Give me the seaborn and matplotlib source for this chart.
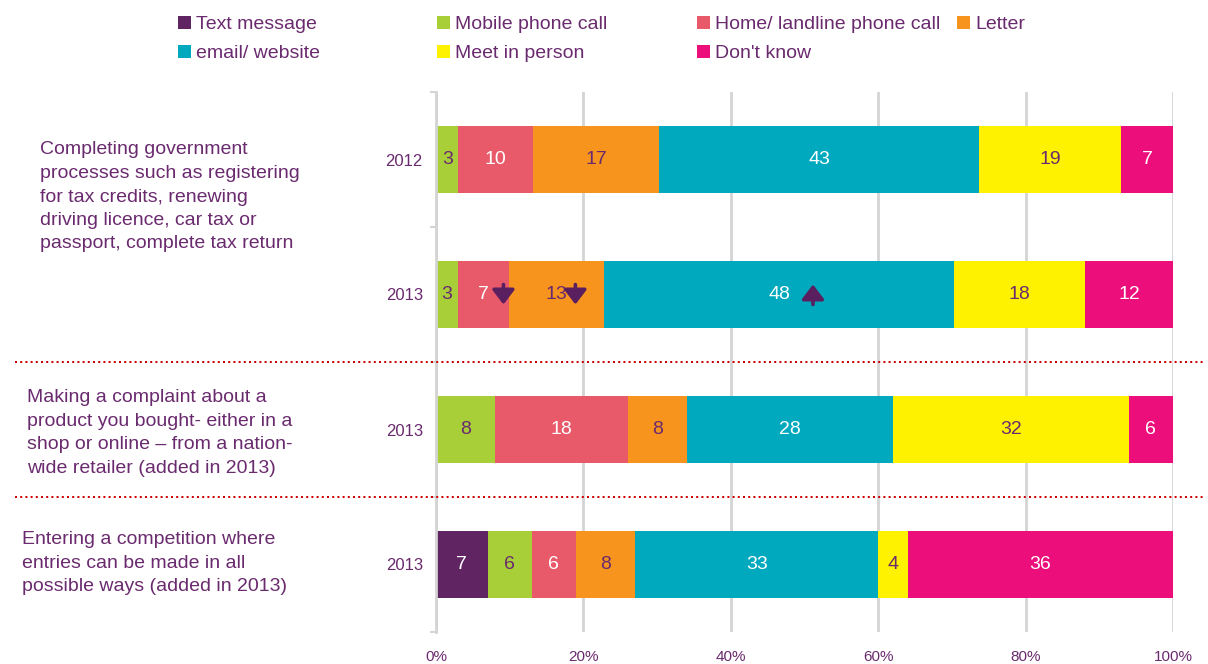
import numpy as np
import pandas as pd
import seaborn as sns
import matplotlib.pyplot as plt
from matplotlib.lines import Line2D
from matplotlib.patches import Patch
from matplotlib.transforms import offset_copy, blended_transform_factory

# ---------------- data ----------------
categories = ["Text message", "Mobile phone call", "Home/ landline phone call",
              "Letter", "email/ website", "Meet in person", "Don't know"]
row_ids = ["gov_2012", "gov_2013", "complaint_2013", "competition_2013"]
years = ["2012", "2013", "2013", "2013"]

text_message = [0, 0, 0, 7]
mobile_call = [3, 3, 8, 6]
home_call = [10, 7, 18, 6]
letter = [17, 13, 8, 8]
email_web = [43, 48, 28, 33]
meet_person = [19, 18, 32, 4]
dont_know = [7, 12, 6, 36]

group_labels = [
    "Completing government\nprocesses such as registering\nfor tax credits, renewing\ndriving licence, car tax or\npassport, complete tax return",
    "Making a complaint about a\nproduct you bought- either in a\nshop or online \u2013 from a nation-\nwide retailer (added in 2013)",
    "Entering a competition where\nentries can be made in all\npossible ways (added in 2013)",
]
xtick_values = [0, 20, 40, 60, 80, 100]
xtick_labels = ["0%", "20%", "40%", "60%", "80%", "100%"]

# significant change markers: (row, category, direction)
change_arrows = [("gov_2013", "Home/ landline phone call", "down"),
                 ("gov_2013", "Letter", "down"),
                 ("gov_2013", "email/ website", "up")]

# ---------------- style / layout ----------------
W, H = 1208, 664
purple = "#6a2a6e"
arrow_col = "#5a1f5e"
colors = ["#5f2461", "#a8cf38", "#e85a6a", "#f7941d", "#00a9be", "#fff200", "#ec0e7a"]
label_colors = ["white", purple, "white", purple, "white", purple, "white"]
arrow_offsets_px = [20, 19, 34]
group_label_pos = [(40, 197), (27, 433), (22, 563)]  # pixel x (left), y (center)
legend_columns = [[0, 4], [1, 5], [2, 6], [3]]
legend_x_px = [178, 437, 697, 957]
grid_col = "#d4d4d4"

sns.set_theme(style="white")
plt.rcParams["font.family"] = ["Liberation Sans", "DejaVu Sans"]

fig = plt.figure(figsize=(W / 100, H / 100), dpi=100)
ax = fig.add_axes([436 / W, 1 - 632 / H, (1173 - 436) / W, (632 - 92) / H])

values = np.array([text_message, mobile_call, home_call, letter,
                   email_web, meet_person, dont_know], dtype=float).T
pct = values / values.sum(axis=1, keepdims=True) * 100
cum = pct.cumsum(axis=1)

for j in reversed(range(len(categories))):
    df = pd.DataFrame({"row": row_ids, "cum": cum[:, j]})
    sns.barplot(data=df, x="cum", y="row", order=row_ids, orient="h",
                color=colors[j], saturation=1, width=0.49, linewidth=0,
                errorbar=None, ax=ax)

# segment value labels
for i in range(len(row_ids)):
    for j in range(len(categories)):
        if values[i, j] > 0:
            cx = cum[i, j] - pct[i, j] / 2
            ax.text(cx, i, f"{int(values[i, j])}", ha="center", va="center",
                    fontsize=14, color=label_colors[j])

# arrows
for (row, cat, direction), off in zip(change_arrows, arrow_offsets_px):
    i = row_ids.index(row)
    j = categories.index(cat)
    cx = cum[i, j] - pct[i, j] / 2
    dx = off * 0.72
    hy = -7.2 if direction == "down" else 7.2
    ax.annotate("", xy=(cx, i),
                xycoords=offset_copy(ax.transData, fig=fig, x=dx, y=hy, units="points"),
                xytext=(cx, i),
                textcoords=offset_copy(ax.transData, fig=fig, x=dx, y=-hy, units="points"),
                arrowprops=dict(arrowstyle="-|>,head_length=0.55,head_width=0.42",
                                color=arrow_col, lw=2.6, mutation_scale=16,
                                shrinkA=0, shrinkB=0))

# axes styling
ax.set_xlim(0, 100)
ax.set_ylim(3.5, -0.5)
ax.set_xlabel("")
ax.set_ylabel("")
ax.set_xticks(xtick_values)
ax.set_xticklabels(xtick_labels)
ax.tick_params(axis="x", length=0, pad=13, labelsize=11, labelcolor=purple)
ax.set_yticks(range(len(row_ids)))
ax.set_yticklabels(years)
ax.tick_params(axis="y", which="major", length=0, pad=9.5, labelsize=12, labelcolor=purple)
ax.set_yticks([-0.5, 0.5, 1.5, 2.5, 3.5], minor=True)
ax.tick_params(axis="y", which="minor", length=4, width=1.5, color=grid_col, left=True)
ax.grid(False)
ax.grid(axis="x", color=grid_col, lw=2)
ax.set_axisbelow(True)
for s in ["top", "right", "bottom"]:
    ax.spines[s].set_visible(False)
ax.spines["left"].set_color(grid_col)
ax.spines["left"].set_linewidth(2)

# group labels
for lab, (px, py) in zip(group_labels, group_label_pos):
    fig.text(px / W, 1 - py / H, lab, ha="left", va="center", fontsize=14,
             color=purple, linespacing=1.5)

# dotted separators
blend = blended_transform_factory(fig.transFigure, ax.transData)
for yb in [1.5, 2.5]:
    ln = Line2D([15 / W, 1205 / W], [yb, yb], transform=blend, color="#cc0000",
                lw=1.44, linestyle=(0, (1.0, 1.6)), clip_on=False)
    fig.add_artist(ln)

# legend (one per column)
for col, lx in zip(legend_columns, legend_x_px):
    handles = [Patch(facecolor=colors[k], edgecolor="none") for k in col]
    leg = fig.legend(handles, [categories[k] for k in col], loc="upper left",
                     bbox_to_anchor=(lx / W, 1 - 16 / H), frameon=False, fontsize=14,
                     handlelength=0.65, handleheight=0.65, handletextpad=0.3,
                     labelspacing=0.6, borderpad=0, borderaxespad=0)
    for t in leg.get_texts():
        t.set_color(purple)

fig.savefig("out.png", dpi=100)
